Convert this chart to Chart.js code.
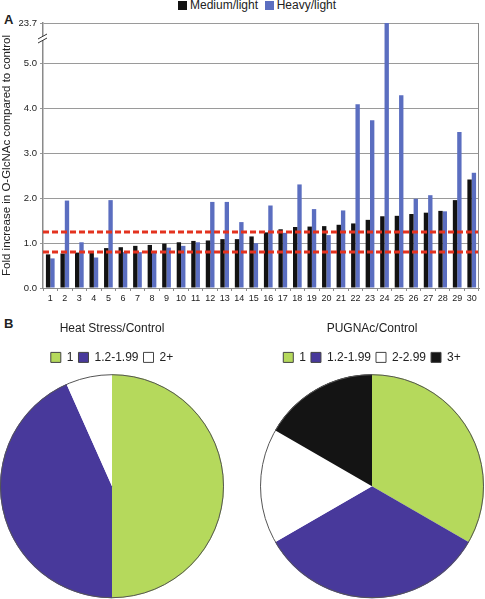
<!DOCTYPE html>
<html>
<head>
<meta charset="utf-8">
<script src="https://cdn.jsdelivr.net/npm/chart.js@4/dist/chart.umd.min.js"></script>
<style>
  html, body { margin:0; padding:0; background:#fff; }
  body { width:485px; height:599px; position:relative; overflow:hidden; font-family:"Liberation Sans", Arial, sans-serif; color:#222; }
  .wrap { position:absolute; }
  .panel { position:absolute; font-weight:bold; font-size:13px; }
  #barLegend { position:absolute; top:-2px; left:178px; font-size:12px; white-space:nowrap; line-height:14px; }
  #barLegend span.box { display:inline-block; width:9px; height:9px; margin-right:3px; vertical-align:-1px; }
</style>
</head>
<body>
<div class="panel" style="left:4px;top:12px;">A</div>
<div class="panel" style="left:4px;top:316px;">B</div>
<div id="barLegend"></div>
<div class="wrap" style="left:0;top:0;width:485px;height:305px;"><canvas id="bar"></canvas></div>
<div class="wrap" style="left:0;top:313px;width:224px;height:286px;"><canvas id="pieHeat"></canvas></div>
<div class="wrap" style="left:260px;top:313px;width:224px;height:286px;"><canvas id="piePug"></canvas></div>
<script>
// ---------- data ----------
const proteins = ['1','2','3','4','5','6','7','8','9','10','11','12','13','14','15','16','17','18','19','20','21','22','23','24','25','26','27','28','29','30'];
const mediumLight = [0.75,0.77,0.79,0.81,0.89,0.91,0.94,0.96,0.99,1.02,1.05,1.06,1.09,1.09,1.15,1.24,1.31,1.36,1.37,1.38,1.41,1.44,1.52,1.60,1.61,1.65,1.68,1.72,1.96,2.42];
const heavyLight  = [0.66,1.95,1.02,0.68,1.96,0.80,0.80,0.81,0.90,0.94,1.02,1.92,1.92,1.47,1.00,1.84,1.23,2.31,1.76,1.18,1.73,4.10,3.74,23.7,4.30,1.99,2.07,1.71,3.48,2.57];
const seriesNames = ['Medium/light','Heavy/light'];
const yTickValues = [0,1,2,3,4,5,23.7];
const cutoffLines = [0.8, 1.25];
const axisBreakAt = 5;

const heatLabels = ['1','1.2-1.99','2+'];
const heatCounts = [15,13,2];
const pugLabels = ['1','1.2-1.99','2-2.99','3+'];
const pugCounts = [10,10,5,5];

// ---------- styles ----------
const FONT = '"Liberation Sans", Arial, sans-serif';
const seriesColors = ['#121212','#5b6ec0'];
const pieColors = ['#b5d95c','#48399b','#ffffff','#141414'];

// legend A (html text)
document.getElementById('barLegend').innerHTML = seriesNames.map((n,i)=>
  `<span class="box" style="background:${seriesColors[i]}"></span>${n}`).join('&nbsp;&nbsp;');

// ---------- broken linear scale ----------
const COMPRESS = 0.0487; // compressed part above break
class BrokenLinearScale extends Chart.LinearScale {
  _f(v) { return v <= axisBreakAt ? v : axisBreakAt + (v - axisBreakAt) * COMPRESS; }
  getPixelForValue(value) {
    if (value === null || value === undefined || isNaN(value)) return NaN;
    const lo = this._f(this.min), hi = this._f(this.max);
    return this.getPixelForDecimal((this._f(value) - lo) / (hi - lo));
  }
}
BrokenLinearScale.id = 'brokenLinear';
BrokenLinearScale.defaults = Chart.LinearScale.defaults;
Chart.register(BrokenLinearScale);

const barExtras = {
  id: 'barExtras',
  afterDatasetsDraw(chart) {
    const {ctx, chartArea:a, scales:{y}} = chart;
    ctx.save();
    ctx.strokeStyle = '#e3321f';
    ctx.lineWidth = 3;
    ctx.setLineDash([6,3]);
    cutoffLines.forEach(v => {
      const py = Math.round(y.getPixelForValue(v));
      ctx.beginPath(); ctx.moveTo(a.left, py); ctx.lineTo(a.right, py); ctx.stroke();
    });
    ctx.restore();
  },
  afterDraw(chart) {
    const {ctx, chartArea:a} = chart;
    ctx.save();
    ctx.strokeStyle = '#8a8a8a'; ctx.lineWidth = 1;
    ctx.beginPath(); ctx.moveTo(a.right - 0.5, a.top); ctx.lineTo(a.right - 0.5, a.bottom); ctx.stroke();
    const by = a.top + 15;
    ctx.fillStyle = '#fff';
    ctx.fillRect(a.left - 3, by - 2, 6, 4);
    ctx.strokeStyle = '#333'; ctx.lineWidth = 1;
    ctx.beginPath();
    ctx.moveTo(a.left - 5, by + 1); ctx.lineTo(a.left + 4, by - 4);
    ctx.moveTo(a.left - 5, by + 5); ctx.lineTo(a.left + 4, by);
    ctx.stroke();
    ctx.restore();
  }
};

new Chart(document.getElementById('bar'), {
  type: 'bar',
  data: {
    labels: proteins,
    datasets: [
      { label: seriesNames[0], data: mediumLight, backgroundColor: seriesColors[0] },
      { label: seriesNames[1], data: heavyLight, backgroundColor: seriesColors[1] }
    ]
  },
  options: {
    responsive: true, maintainAspectRatio: false, animation: false,
    categoryPercentage: 0.6, barPercentage: 1.0,
    layout: { padding: { top: 23, right: 6, left: 0, bottom: 0 } },
    plugins: { legend: { display: false }, tooltip: { enabled: false } },
    scales: {
      x: {
        grid: { drawOnChartArea: false, drawTicks: true, tickLength: 3, color: '#8a8a8a' },
        border: { color: '#8a8a8a', width: 1 },
        ticks: { font: { family: FONT, size: 9 }, color: '#222', padding: 2, maxRotation: 0, autoSkip: false },
        afterFit(s) { s.height = 17; }
      },
      y: {
        type: 'brokenLinear',
        min: 0, max: 23.7,
        grid: { color: '#9a9a9a', lineWidth: 1, tickLength: 3 },
        border: { color: '#8a8a8a', width: 1.5 },
        afterBuildTicks(s) { s.ticks = yTickValues.map(v => ({ value: v })); },
        ticks: { font: { family: FONT, size: 9.5 }, color: '#222', padding: 3, callback: v => Number(v).toFixed(1) },
        title: { display: true, text: 'Fold increase in O-GlcNAc compared to control', font: { family: FONT, size: 11.5 }, color: '#222', padding: { top: 0, bottom: 2 } },
        afterFit(s) { s.width = 43; }
      }
    }
  },
  plugins: [barExtras]
});

// ---------- pies ----------
const pieOutline = {
  id: 'pieOutline',
  afterDatasetsDraw(chart) {
    const arc = chart.getDatasetMeta(0).data[0];
    if (!arc) return;
    const ctx = chart.ctx;
    ctx.save();
    ctx.strokeStyle = '#555'; ctx.lineWidth = 1;
    ctx.beginPath(); ctx.arc(arc.x, arc.y, arc.outerRadius - 0.5, 0, Math.PI * 2); ctx.stroke();
    ctx.restore();
  }
};

function makePie(id, title, labels, counts) {
  const colors = pieColors.slice(0, counts.length);
  new Chart(document.getElementById(id), {
    type: 'pie',
    data: { labels, datasets: [{ data: counts, backgroundColor: colors, borderWidth: 0 }] },
    options: {
      responsive: true, maintainAspectRatio: false, animation: false,
      layout: { padding: 0 },
      plugins: {
        tooltip: { enabled: false },
        title: { display: true, text: title, font: { family: FONT, size: 12, weight: 'normal' }, color: '#222', padding: { top: 8, bottom: 11 } },
        legend: {
          display: true, position: 'top',
          labels: {
            boxWidth: 10, boxHeight: 10, padding: 5,
            font: { family: FONT, size: 12 }, color: '#222',
            generateLabels: chart => chart.data.labels.map((l, i) => ({
              text: l, fillStyle: colors[i], strokeStyle: '#444', lineWidth: 1, hidden: false, index: i, fontColor: '#222'
            }))
          }
        }
      }
    },
    plugins: [pieOutline]
  });
}
makePie('pieHeat', 'Heat Stress/Control', heatLabels, heatCounts);
makePie('piePug', 'PUGNAc/Control', pugLabels, pugCounts);
</script>
</body>
</html>
